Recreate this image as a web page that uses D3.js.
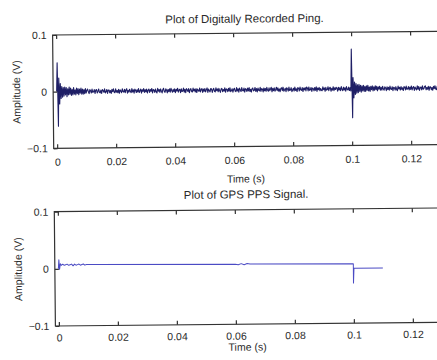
<!DOCTYPE html>
<html>
<head>
<meta charset="utf-8">
<script src="https://cdn.jsdelivr.net/npm/d3@7"></script>
<style>
  body { margin: 0; background: #fff; }
  svg { display: block; }
  text { font-family: "Liberation Sans", Arial, sans-serif; fill: #2a2a2a; }
</style>
</head>
<body>
<div id="chart"></div>
<script>
// Digitally recorded ping, in millivolts, one sample every 0.25 ms from t = 0
const pingStep = 0.00025;
const pingMv = [
   0, 51, -61, 24, -22, 14, -12, 9, -10, 7, -8, 8, -6, 7, -9, 5, -6, 8, -5, 6,
  -7, 4, -6, 7, -5, 3, -6, 6, -4, 5, -6, 4, -3, 6, -5, 4, -5, 3, -4, 5,
  -3, 2, 4, -1, -4, 3, 1, -3, 4, -2, -1, 3, -4, 2, 3, -3, 0, 4, -2, -3,
   2, -4, 3, 1, -2, 4, -3, -1, 3, -4, 2, 2, -3, 1, -4, 3, -1, 4, -2, -3,
   4, -2, 1, -3, 3, -4, 2, 0, -3, 4, -1, -2, 3, -3, 2, 4, -4, 1, -2, 3,
  -1, -3, 4, -2, 2, -4, 3, 1, -3, 2, -2, 4, -3, 0, 3, -4, 2, -1, 4, -3,
   2, -2, 3, -4, 1, 3, -3, 2, -1, 4, -4, 2, 1, -3, 3, -2, -4, 4, -1, 2,
  -3, 3, -1, -4, 2, 4, -2, -3, 3, 1, -4, 2, -2, 3, -3, 4, 0, -3, 2, -2,
   3, -4, 2, -1, 4, -3, 1, 2, -4, 3, -2, -1, 4, -3, 2, -4, 3, 1, -2, 3,
  -4, 1, 3, -2, -3, 4, -1, 2, -3, 3, -4, 2, 0, -2, 4, -3, 1, 3, -4, 2,
  -2, 3, -3, 1, 4, -4, 2, -1, -3, 3, 2, -4, 1, 3, -2, -3, 4, -1, 2, -3,
   3, -1, -4, 2, 3, -3, 1, -2, 4, -4, 2, 1, -3, 3, -2, 4, -3, -1, 2, -4,
   1, 3, -2, -3, 4, -2, 2, -4, 3, 0, -3, 4, -1, -2, 3, -4, 2, 1, -3, 3,
  -2, 4, -3, 1, -4, 2, 3, -2, -1, 4, -3, 2, -4, 3, -1, -2, 4, -3, 2, 1,
  -4, 3, -2, 2, -3, 4, -1, -3, 3, -2, 1, 4, -4, 2, -2, 3, -3, 0, 4, -2,
   3, -3, 1, -4, 2, 3, -2, 4, -3, -1, 2, -4, 3, 1, -3, 4, -2, -1, 3, -4,
  -1, 2, -3, 4, -2, 1, -4, 3, 2, -3, 4, -1, -2, 3, -4, 2, -1, 3, -3, 4,
   2, -3, 4, -2, -1, 3, -4, 2, 1, -3, 3, -2, 4, -4, 2, -1, 3, -3, 1, -2,
  -3, 4, -1, 2, -4, 3, -2, -1, 4, -3, 2, 3, -4, 1, -2, 4, -3, 2, -1, 3,
   1, -4, 3, -2, 2, -3, 4, -1, -3, 3, -2, 2, -4, 4, -1, -2, 3, -3, 2, -4,
  70, -51, 20, -16, 12, -10, 9, -8, 7, -7, 8, -5, 6, -6, 5, -4, 6, -5, 4, -5,
   5, -3, 6, -4, 3, -5, 4, -2, 5, -4, 3, -3, 5, -2, 4, -4, 3, -1, 4, -3,
   2, -3, 4, -1, -3, 3, 1, -4, 3, -2, 2, -3, 4, -1, -2, 3, -4, 2, 1, -3,
   3, -2, -4, 4, -1, 2, -3, 3, -2, 1, -4, 3, 2, -3, 4, -2, -1, 3, -3, 2,
  -2, 4, -3, 1, 3, -4, 2, -1, -3, 4, -2, 3, -4, 1, 2, -3, 4, -2, -1, 3,
   4, -3, 1, -2, 3, -4, 2, 2, -3, 1, -4, 3, -1, 4, -2, -3, 3, 1, -4, 2
];

// GPS PPS signal, in millivolts
const ppsTime = [0, 0.0002, 0.0004, 0.0007, 0.001, 0.0015, 0.002, 0.0025, 0.003, 0.0035,
  0.004, 0.0045, 0.005, 0.0055, 0.006, 0.0065, 0.007, 0.0075, 0.008, 0.0085, 0.009,
  0.0095, 0.010, 0.011, 0.012, 0.06, 0.061, 0.062, 0.063, 0.064, 0.065, 0.1, 0.1, 0.1002, 0.11];
const ppsMv = [0, 16, -1, 9, 6, 8, 6, 7, 8, 6,
  7, 8, 5, 8, 6, 7, 8, 6, 7, 8, 6,
  7, 7, 7, 7, 5, 4, 6, 4, 6, 5, 4, -30, -4, -4];

const xTicks = [0, 0.02, 0.04, 0.06, 0.08, 0.1, 0.12];
const yTicks = [-0.1, 0, 0.1];
const titles = ['Plot of Digitally Recorded Ping.', 'Plot of GPS PPS Signal.'];

const width = 437, height = 360;
const svg = d3.select('#chart').append('svg')
  .attr('width', width)
  .attr('height', height);

// the scanned page sits slightly tilted
const root = svg.append('g').attr('transform', 'rotate(-0.55, 54, 180)');

const left = 54, right = 448;
const x = d3.scaleLinear().domain([0, 0.12]).range([57.5, 411.5]);

function panel(p) {
  const { top, bottom, title, data, color, lw, titleGap, tickPad, labelGap } = p;
  const y = d3.scaleLinear().domain([-0.1, 0.1]).range([bottom, top]);
  const g = root.append('g');

  // signal
  g.append('path')
    .datum(data)
    .attr('fill', 'none')
    .attr('stroke', color)
    .attr('stroke-width', lw)
    .attr('stroke-linejoin', 'round')
    .attr('d', d3.line().x(d => x(d[0])).y(d => y(d[1] / 1000)));

  // box
  g.append('rect')
    .attr('x', left).attr('y', top)
    .attr('width', right - left).attr('height', bottom - top)
    .attr('fill', 'none').attr('stroke', '#333').attr('stroke-width', 1.2);

  const fmt = d => d === 0 ? '0' : d3.format('.2~f')(d);

  g.append('g')
    .attr('transform', `translate(0,${bottom})`)
    .call(d3.axisBottom(x).tickValues(xTicks).tickFormat(fmt).tickSize(-4).tickPadding(tickPad))
    .call(a => a.select('.domain').remove())
    .call(a => a.selectAll('text').style('font-size', '10.5px'));

  g.append('g')
    .attr('transform', `translate(0,${top})`)
    .call(d3.axisTop(x).tickValues(xTicks).tickFormat('').tickSize(-4))
    .call(a => a.select('.domain').remove());

  g.append('g')
    .attr('transform', `translate(${left},0)`)
    .call(d3.axisLeft(y).tickValues(yTicks).tickFormat(fmt).tickSize(-4).tickPadding(6))
    .call(a => a.select('.domain').remove())
    .call(a => a.selectAll('text').style('font-size', '10.5px'));

  g.selectAll('.tick line').attr('stroke', '#333').attr('stroke-width', 1.2);

  g.append('text')
    .attr('x', 246).attr('y', top - titleGap)
    .attr('text-anchor', 'middle')
    .style('font-size', '11.5px')
    .text(title);

  g.append('text')
    .attr('x', 246).attr('y', bottom + labelGap)
    .attr('text-anchor', 'middle')
    .style('font-size', '10.5px')
    .text('Time (s)');

  g.append('text')
    .attr('transform', `translate(21,${(top + bottom) / 2}) rotate(-90)`)
    .attr('text-anchor', 'middle')
    .style('font-size', '10.5px')
    .text('Amplitude (V)');
}

const pingData = pingMv.map((v, i) => [i * pingStep, v]);
const ppsData = ppsTime.map((t, i) => [t, ppsMv[i]]);

panel({ top: 35, bottom: 148.3, title: titles[0], data: pingData, color: '#1f1f66', lw: 1.1,
        titleGap: 10.5, tickPad: 10, labelGap: 36 });
panel({ top: 211.7, bottom: 326, title: titles[1], data: ppsData, color: '#4b4bc4', lw: 1,
        titleGap: 11.5, tickPad: 8, labelGap: 26.5 });
</script>
</body>
</html>
